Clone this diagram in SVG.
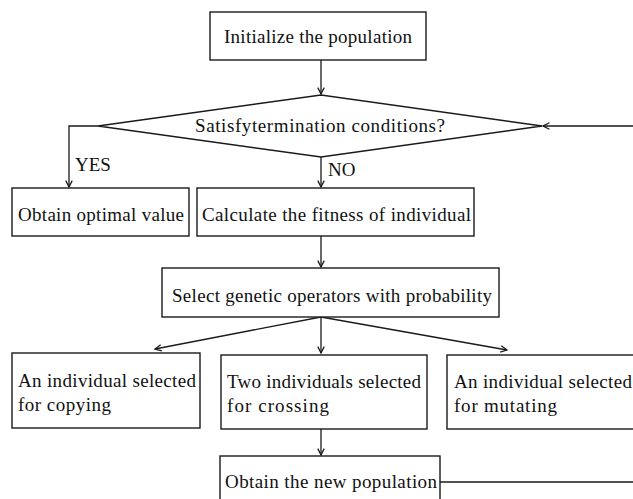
<svg xmlns="http://www.w3.org/2000/svg" width="633" height="499" viewBox="0 0 633 499">
<style>
.box{fill:#fff;stroke:#1a1a1a;stroke-width:1.4}
.t{font-family:"Liberation Serif","Times New Roman",serif;font-size:19px;fill:#111}
.c{fill:none;stroke:#1a1a1a;stroke-width:1.3}
</style>
<defs>
<marker id="ah" viewBox="0 0 10 10" refX="9" refY="5" markerWidth="8" markerHeight="8" markerUnits="userSpaceOnUse" orient="auto">
<path d="M1,1 L9,5 L1,9" fill="none" stroke="#1a1a1a" stroke-width="1.6"/>
</marker>
</defs>
<rect width="633" height="499" fill="#fff"/>
<g id="connectors">
<path class="c" d="M321,60 V94" marker-end="url(#ah)"/>
<path class="c" d="M98,126 H69 V187" marker-end="url(#ah)"/>
<path class="c" d="M321,157 V187" marker-end="url(#ah)"/>
<path class="c" d="M321,236 V267" marker-end="url(#ah)"/>
<path class="c" d="M321,317 L155,349" marker-end="url(#ah)"/>
<path class="c" d="M321,317 V353" marker-end="url(#ah)"/>
<path class="c" d="M321,317 L507,350" marker-end="url(#ah)"/>
<path class="c" d="M321,429 V455" marker-end="url(#ah)"/>
<path class="c" d="M440,482 H634 V126 H543" marker-end="url(#ah)"/>
<text class="t" x="75" y="171">YES</text>
<text class="t" x="328" y="176">NO</text>
</g>
<g id="init">
<rect class="box" x="210" y="12" width="216" height="48"/>
<text class="t" x="224" y="43" textLength="188" lengthAdjust="spacing">Initialize the population</text>
</g>
<g id="decision">
<polygon class="box" points="98,126 321,95 542,126 321,157"/>
<text class="t" x="195" y="132" textLength="250" lengthAdjust="spacing">Satisfytermination conditions?</text>
</g>
<g id="optimal">
<rect class="box" x="12" y="188" width="177" height="48"/>
<text class="t" x="18" y="221" textLength="166" lengthAdjust="spacing">Obtain optimal value</text>
</g>
<g id="fitness">
<rect class="box" x="197" y="188" width="277" height="48"/>
<text class="t" x="202" y="221" textLength="269" lengthAdjust="spacing">Calculate the fitness of individual</text>
</g>
<g id="select">
<rect class="box" x="162" y="268" width="337" height="49"/>
<text class="t" x="172" y="302" textLength="320" lengthAdjust="spacing">Select genetic operators with probability</text>
</g>
<g id="copy">
<rect class="box" x="12" y="353" width="188" height="75"/>
<text class="t" x="18" y="387" textLength="178" lengthAdjust="spacing">An individual selected</text>
<text class="t" x="18" y="411" textLength="93" lengthAdjust="spacing">for copying</text>
</g>
<g id="cross">
<rect class="box" x="221" y="355" width="206" height="74"/>
<text class="t" x="227" y="388" textLength="194" lengthAdjust="spacing">Two individuals selected</text>
<text class="t" x="227" y="412" textLength="102" lengthAdjust="spacing">for crossing</text>
</g>
<g id="mutate">
<rect class="box" x="447" y="355" width="200" height="74"/>
<text class="t" x="454" y="388" textLength="178" lengthAdjust="spacing">An individual selected</text>
<text class="t" x="454" y="412" textLength="103" lengthAdjust="spacing">for mutating</text>
</g>
<g id="newpop">
<rect class="box" x="220" y="456" width="220" height="60"/>
<text class="t" x="225" y="488" textLength="212" lengthAdjust="spacing">Obtain the new population</text>
</g>
</svg>
